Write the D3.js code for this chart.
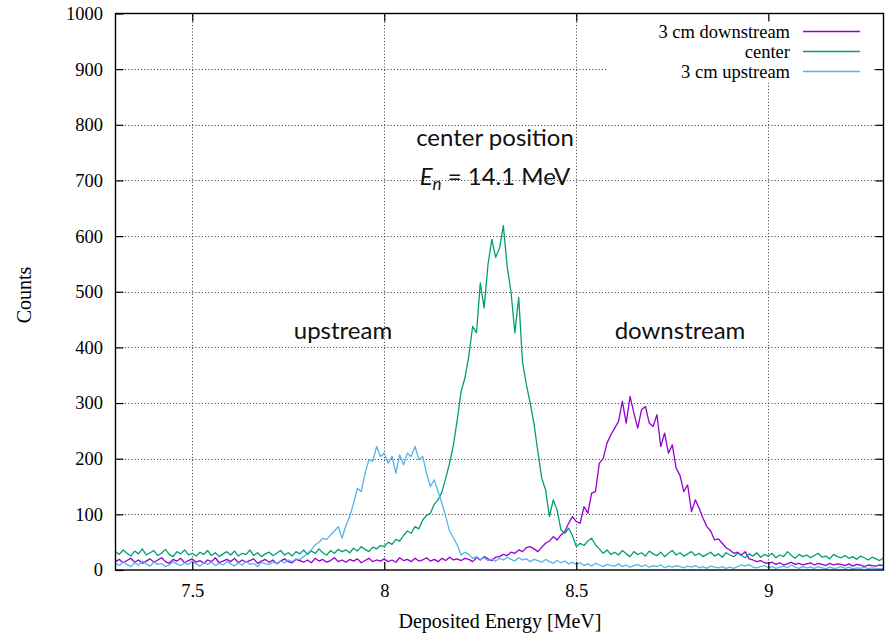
<!DOCTYPE html>
<meta charset="utf-8">
<style>
body { margin: 0; background: #fff; }
svg { display: block; }
text { font-family: "Liberation Serif", "Times New Roman", serif; fill: #000; }
.grid line { stroke: #333; stroke-width: 1; stroke-dasharray: 1,2.2; }
.note { font-family: Lato, "Liberation Sans", sans-serif; font-size: 24px; fill: #111; }
.curve { fill: none; stroke-width: 1.3; stroke-linejoin: round; }
</style>
<svg width="890" height="634"></svg>
<script src="https://d3js.org/d3.v7.min.js"></script>
<script>

// histogram binning (MeV)
var binStart = 7.30,
    binWidth = 0.01;

// counts per bin, 7.30 ... 9.30 MeV
var downstream = [
  15, 19, 13, 17, 21, 14, 18, 12, 16, 20,
  14, 18, 22, 15, 12, 19, 16, 21, 13, 17,
  20, 14, 17, 12, 18, 15, 22, 13, 16, 19,
  15, 21, 13, 18, 14, 17, 20, 12, 16, 19,
  14, 18, 11, 16, 20, 15, 13, 19, 17, 14,
  18, 13, 21, 16, 19, 14, 17, 22, 15, 18,
  14, 19, 16, 20, 13, 17, 21, 15, 18, 16,
  20, 15, 18, 14, 22, 17, 19, 15, 21, 16,
  18, 22, 16, 19, 15, 21, 17, 23, 18, 20,
  17, 21, 19, 15, 22, 18, 24, 20, 17, 23,
  24, 28, 26, 32, 30, 36, 33, 40, 42, 38,
  33, 41, 48, 52, 60, 54, 63, 69, 84, 96,
  87, 84, 114, 102, 138, 141, 192, 200, 228, 243,
  255, 267, 303, 264, 312, 282, 255, 288, 294, 264,
  258, 279, 222, 246, 210, 225, 183, 170, 141, 153,
  105, 126, 111, 93, 78, 70, 54, 56, 48, 40,
  36, 30, 32, 27, 33, 20, 18, 15, 17, 13,
  12, 14, 10, 13, 9, 11, 14, 10, 12, 9,
  11, 13, 9, 12, 10, 8, 12, 9, 11, 10,
  8, 11, 7, 10, 9, 6, 9, 8, 7, 9,
  8
];

var center = [
  33, 28, 36, 30, 25, 34, 29, 38, 27, 31,
  35, 26, 30, 37, 28, 24, 33, 29, 36, 27,
  30, 25, 32, 28, 35, 26, 31, 24, 29, 33,
  27, 34, 25, 30, 28, 36, 26, 31, 24, 29,
  32, 26, 30, 35, 27, 31, 25, 33, 29, 36,
  28, 34, 30, 38, 31, 27, 35, 30, 37, 33,
  36, 31, 39, 34, 42, 37, 33, 41, 38, 44,
  42, 50, 46, 55, 52, 62, 70, 66, 78, 74,
  90, 98, 102, 118, 126, 140, 165, 192, 225, 270,
  321, 345, 384, 438, 426, 516, 471, 549, 594, 562,
  578, 619, 545, 500, 426, 490, 373, 333, 300, 262,
  212, 165, 144, 96, 126, 108, 72, 66, 75, 62,
  42, 48, 44, 52, 57, 45, 38, 30, 36, 28,
  32, 27, 35, 29, 24, 33, 28, 31, 25, 34,
  29, 26, 32, 24, 30, 35, 27, 31, 25, 29,
  33, 26, 30, 24, 28, 32, 25, 29, 23, 31,
  27, 24, 30, 26, 22, 29, 25, 31, 23, 28,
  25, 30, 22, 27, 24, 33, 26, 21, 28, 24,
  27, 22, 26, 30, 23, 25, 20, 28, 24, 22,
  26, 21, 24, 19, 25, 22, 18, 23, 20, 17,
  22
];

var upstream = [
  12, 8, 15, 10, 6, 13, 9, 16, 11, 7,
  14, 10, 12, 6, 9, 15, 11, 8, 13, 10,
  16, 11, 7, 13, 10, 14, 8, 12, 9, 15,
  11, 7, 13, 9, 16, 10, 12, 6, 14, 11,
  10, 14, 12, 16, 13, 18, 15, 20, 19, 24,
  30, 36, 45, 50, 57, 55, 63, 70, 78, 57,
  80, 96, 120, 147, 141, 174, 198, 195, 222, 204,
  210, 192, 204, 174, 207, 189, 210, 204, 222, 198,
  204, 174, 150, 162, 141, 120, 96, 70, 58, 45,
  27, 32, 28, 21, 24, 19, 22, 17, 20, 16,
  21, 18, 23, 19, 16, 22, 18, 20, 15, 19,
  17, 14, 19, 15, 12, 17, 13, 16, 11, 14,
  10, 13, 8, 11, 7, 12, 9, 6, 10, 8,
  7, 11, 6, 9, 5, 8, 10, 6, 9, 5,
  8, 6, 9, 4, 7, 5, 8, 6, 4, 7,
  5, 8, 4, 6, 3, 7, 5, 4, 6, 3,
  5, 3, 6, 9, 7, 10, 5, 4, 6, 8,
  4, 6, 3, 5, 7, 4, 9, 5, 3, 6,
  4, 5, 3, 6, 4, 2, 5, 3, 4, 6,
  3, 5, 2, 4, 3, 5, 2, 4, 3, 2,
  3
];

var seriesNames = ["3 cm downstream", "center", "3 cm upstream"];
var seriesColors = ["#9400d3", "#009e73", "#56b4e9"];
var xTicks = [7.5, 8, 8.5, 9];
var yTicks = [0, 100, 200, 300, 400, 500, 600, 700, 800, 900, 1000];

var svg = d3.select("svg"),
    plotLeft = 115.5, plotRight = 883.5, plotTop = 13.5, plotBottom = 570;

var x = d3.scaleLinear().domain([7.3, 9.3]).range([plotLeft, plotRight]);
var y = d3.scaleLinear().domain([0, 1000]).range([plotBottom, plotTop]);

// dotted grid
var grid = svg.append("g").attr("class", "grid");
grid.selectAll(".gx")
  .data(xTicks)
  .enter().append("line")
    .attr("x1", function(d) { return Math.round(x(d)) + 0.5; })
    .attr("x2", function(d) { return Math.round(x(d)) + 0.5; })
    .attr("y1", plotBottom)
    .attr("y2", plotTop);
grid.selectAll(".gy")
  .data(yTicks.slice(1, -1))
  .enter().append("line")
    .attr("y1", function(d) { return Math.round(y(d)) + 0.5; })
    .attr("y2", function(d) { return Math.round(y(d)) + 0.5; })
    .attr("x1", plotLeft)
    .attr("x2", plotRight);

// key background hides the grid behind it
svg.append("rect")
  .attr("x", 607).attr("y", plotTop + 1)
  .attr("width", 266).attr("height", 68)
  .attr("fill", "#fff");

// curves
var line = d3.line()
  .x(function(d, i) { return x(binStart + i * binWidth); })
  .y(function(d) { return y(d); });

[downstream, center, upstream].forEach(function(s, k) {
  svg.append("path")
    .datum(s)
    .attr("class", "curve")
    .attr("stroke", seriesColors[k])
    .attr("d", line);
});

// axes: inward ticks on all four sides, labels left and bottom
function styleAxis(g) {
  g.select(".domain").remove();
  g.selectAll(".tick line").attr("stroke", "#000").attr("stroke-width", 1.2);
  g.attr("font-family", "Liberation Serif, Times New Roman, serif").attr("font-size", 18.5);
}

svg.append("g")
  .attr("transform", "translate(" + plotLeft + ",0)")
  .call(d3.axisLeft(y).tickValues(yTicks).tickSize(-8).tickPadding(12.5)
    .tickFormat(function(d) { return d; }))
  .call(styleAxis);

svg.append("g")
  .attr("transform", "translate(" + plotRight + ",0)")
  .call(d3.axisRight(y).tickValues(yTicks.slice(1, -1)).tickSize(-8).tickFormat(""))
  .call(styleAxis);

svg.append("g")
  .attr("transform", "translate(0," + plotBottom + ")")
  .call(d3.axisBottom(x).tickValues(xTicks).tickSize(-8).tickPadding(14)
    .tickFormat(function(d) { return d; }))
  .call(styleAxis);

svg.append("g")
  .attr("transform", "translate(0," + plotTop + ")")
  .call(d3.axisTop(x).tickValues(xTicks).tickSize(-8).tickFormat(""))
  .call(styleAxis);

// frame
svg.append("rect")
  .attr("x", plotLeft).attr("y", plotTop)
  .attr("width", plotRight - plotLeft).attr("height", plotBottom - plotTop)
  .attr("fill", "none")
  .attr("stroke", "#000")
  .attr("stroke-width", 1.4);

// axis titles
svg.append("text")
  .attr("x", 500).attr("y", 628)
  .attr("text-anchor", "middle")
  .attr("font-size", 20)
  .text("Deposited Energy [MeV]");

svg.append("text")
  .attr("transform", "translate(31,295) rotate(-90)")
  .attr("text-anchor", "middle")
  .attr("font-size", 20)
  .text("Counts");

// key
var key = svg.append("g");
seriesNames.forEach(function(name, k) {
  var ky = 31.5 + k * 20;
  key.append("text")
    .attr("x", 790).attr("y", ky + 6)
    .attr("text-anchor", "end")
    .attr("font-size", 18.5)
    .text(name);
  key.append("line")
    .attr("x1", 803).attr("x2", 860)
    .attr("y1", ky).attr("y2", ky)
    .attr("stroke", seriesColors[k])
    .attr("stroke-width", 1.3);
});

// annotations
svg.append("text").attr("class", "note")
  .attr("x", 495).attr("y", 146)
  .attr("text-anchor", "middle")
  .text("center position");

var en = svg.append("text").attr("class", "note")
  .attr("x", 495).attr("y", 185)
  .attr("text-anchor", "middle");
en.append("tspan").attr("font-style", "italic").text("E");
en.append("tspan").attr("font-style", "italic").attr("font-size", 17).attr("dy", 5).text("n");
en.append("tspan").attr("dy", -5).text(" = 14.1 MeV");

svg.append("text").attr("class", "note")
  .attr("x", 343).attr("y", 339)
  .attr("text-anchor", "middle")
  .text("upstream");

svg.append("text").attr("class", "note")
  .attr("x", 680).attr("y", 339)
  .attr("text-anchor", "middle")
  .text("downstream");

</script>
